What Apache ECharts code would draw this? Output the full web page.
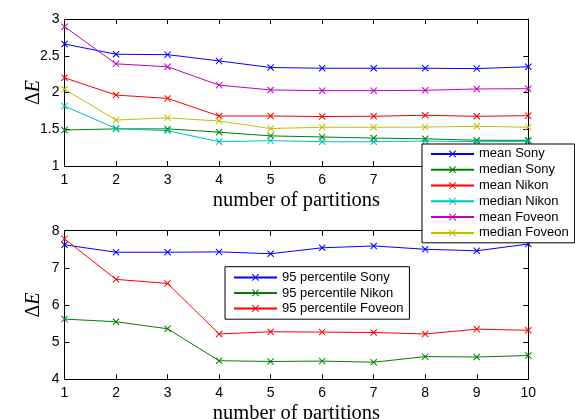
<!DOCTYPE html>
<html><head><meta charset="utf-8">
<script src="https://cdn.jsdelivr.net/npm/echarts@6/dist/echarts.min.js"></script>
<style>html,body{margin:0;padding:0;background:#fff}#c{width:575px;height:419px}</style>
</head><body><div id="c"></div>
<script>
const partitions = [1,2,3,4,5,6,7,8,9,10];
const meanSony     = [2.66,2.52,2.515,2.43,2.34,2.33,2.33,2.33,2.325,2.35];
const medianSony   = [1.49,1.505,1.505,1.46,1.41,1.395,1.38,1.37,1.35,1.35];
const meanNikon    = [2.2,1.965,1.92,1.68,1.68,1.673,1.677,1.69,1.676,1.685];
const medianNikon  = [1.815,1.51,1.48,1.33,1.345,1.33,1.33,1.34,1.33,1.335];
const meanFoveon   = [2.895,2.39,2.35,2.1,2.035,2.025,2.025,2.03,2.048,2.052];
const medianFoveon = [2.045,1.625,1.655,1.612,1.51,1.527,1.527,1.53,1.54,1.527];
const p95Sony   = [7.62,7.42,7.42,7.43,7.38,7.54,7.59,7.50,7.46,7.64];
const p95Nikon  = [5.62,5.55,5.36,4.50,4.48,4.49,4.46,4.61,4.60,4.64];
const p95Foveon = [7.78,6.69,6.58,5.22,5.28,5.27,5.26,5.22,5.35,5.32];

const C = {blue:'#0000ff', green:'#008000', red:'#ff0000', cyan:'#00bfbf', magenta:'#bf00bf', yellow:'#bfbf00'};
const XSYM = 'path://M0,1L1,0L5,4L9,0L10,1L6,5L10,9L9,10L5,6L1,10L0,9L4,5Z';
const SANS = 'Liberation Sans';
const SERIF = 'Liberation Serif';

function pairs(vals){ return partitions.map((p,i)=>[p, vals[i]]); }
function ser(name, vals, color, gi){
  return {name, type:'line', data:pairs(vals), xAxisIndex:gi*2, yAxisIndex:gi*2,
    symbol:XSYM, symbolSize:7, showSymbol:true, animation:false,
    lineStyle:{color, width:1}, itemStyle:{color}, emphasis:{disabled:true}};
}
function xAx(gi, main){
  return {type:'value', gridIndex:gi, min:1, max:10, interval:1, position: main?'bottom':'top',
    axisLine:{show:true, onZero:false, lineStyle:{color:'#000', width:1}},
    axisTick:{show:true, inside:true, length:5, lineStyle:{color:'#000'}},
    axisLabel:{show:main, margin:7, color:'#000', fontFamily:SANS, fontSize:14},
    splitLine:{show:false},
    name: main?'number of partitions':'', nameLocation:'middle', nameGap:24, nameMoveOverlap:false,
    nameTextStyle:{fontFamily:SERIF, fontSize:20.5, color:'#000'}};
}
function yAx(gi, main, min, max, interval){
  return {type:'value', gridIndex:gi, min, max, interval, position: main?'left':'right',
    axisLine:{show:true, onZero:false, lineStyle:{color:'#000', width:1}},
    axisTick:{show:true, inside:true, length:5, lineStyle:{color:'#000'}},
    axisLabel:{show:main, margin:5, color:'#000', fontFamily:SANS, fontSize:14},
    splitLine:{show:false},
    name: main?'{d|Δ}{i|E}':'', nameLocation:'middle', nameGap:21, nameRotate:90, nameMoveOverlap:false,
    nameTextStyle:{rich:{d:{fontFamily:SERIF, fontSize:20, color:'#000'}, i:{fontFamily:SERIF, fontStyle:'italic', fontSize:20, color:'#000'}}}};
}

const chart = echarts.init(document.getElementById('c'), null, {renderer:'canvas'});
chart.setOption({
  backgroundColor:'#fff',
  animation:false,
  grid:[
    {left:64.5, top:19, width:463.8, height:147, outerBoundsMode:'none', containLabel:false},
    {left:64.5, top:230.7, width:463.8, height:148.6, outerBoundsMode:'none', containLabel:false}
  ],
  xAxis:[xAx(0,true), xAx(0,false), xAx(1,true), xAx(1,false)],
  yAxis:[yAx(0,true,1,3,0.5), yAx(0,false,1,3,0.5), yAx(1,true,4,8,1), yAx(1,false,4,8,1)],
  legend:[
    {orient:'vertical', left:422, top:144, padding:[2,6,2,8], itemGap:0, itemWidth:43, itemHeight:9,
     backgroundColor:'#fff', borderColor:'#000', borderWidth:1, borderRadius:0, z:10,
     selectedMode:false,
     textStyle:{fontFamily:SANS, fontSize:13, color:'#000', lineHeight:15.8},
     data:['mean Sony','median Sony','mean Nikon','median Nikon','mean Foveon','median Foveon']},
    {orient:'vertical', left:225, top:266.7, padding:[3,6,3,8], itemGap:0, itemWidth:43, itemHeight:9,
     backgroundColor:'#fff', borderColor:'#000', borderWidth:1, borderRadius:0, z:10,
     selectedMode:false,
     textStyle:{fontFamily:SANS, fontSize:13, color:'#000', lineHeight:15.5},
     data:['95 percentile Sony','95 percentile Nikon','95 percentile Foveon']}
  ],
  series:[
    ser('mean Sony', meanSony, C.blue, 0),
    ser('median Sony', medianSony, C.green, 0),
    ser('mean Nikon', meanNikon, C.red, 0),
    ser('median Nikon', medianNikon, C.cyan, 0),
    ser('mean Foveon', meanFoveon, C.magenta, 0),
    ser('median Foveon', medianFoveon, C.yellow, 0),
    ser('95 percentile Sony', p95Sony, C.blue, 1),
    ser('95 percentile Nikon', p95Nikon, C.green, 1),
    ser('95 percentile Foveon', p95Foveon, C.red, 1)
  ]
});
</script></body></html>
